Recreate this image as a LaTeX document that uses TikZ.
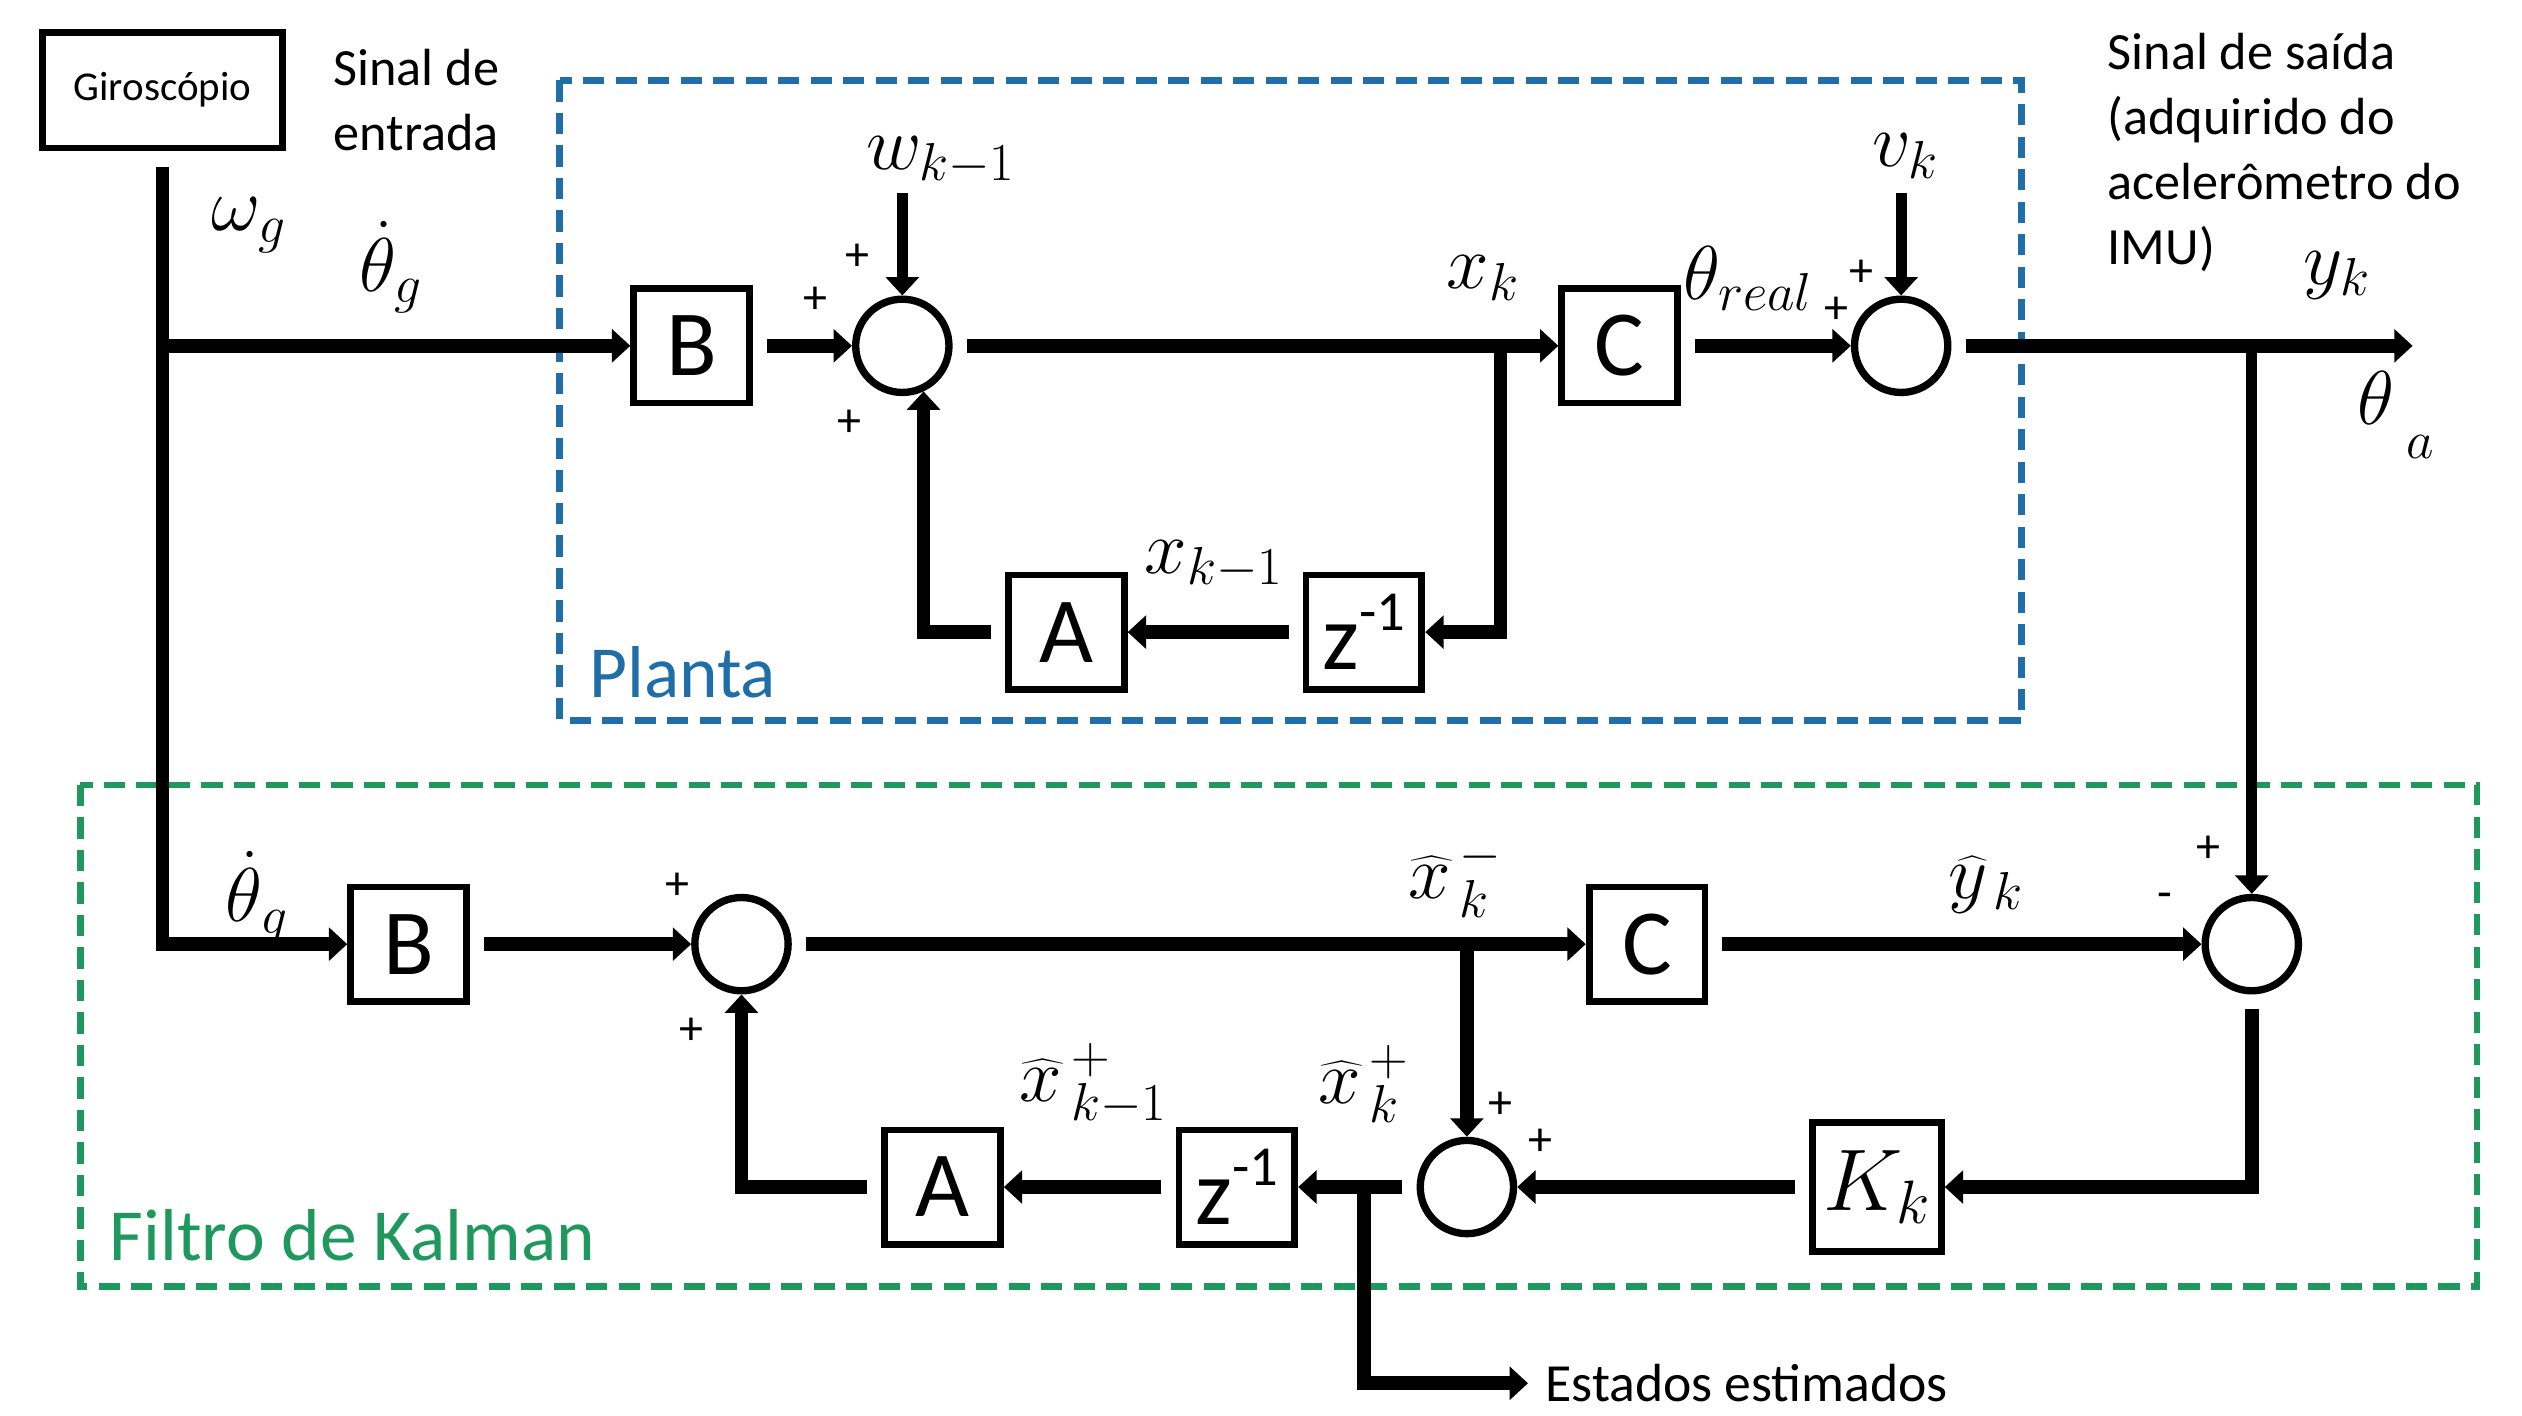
\RequirePackage{fix-cm}
\documentclass[tikz,border=0pt]{standalone}
\usepackage{fontspec}
\setmainfont{Carlito}
\usetikzlibrary{arrows.meta,calc}
\definecolor{plantblue}{RGB}{31,110,168}
\definecolor{kalgreen}{RGB}{30,152,92}
\begin{document}
\begin{tikzpicture}[x=0.02cm,y=-0.02cm,
  wire/.style={line width=4.8pt},
  thinwire/.style={line width=4pt},
  arr/.style={-{Triangle[length=6.5pt,width=11.5pt]}},
  gap/.style={shorten <=5pt},
  blk/.style={draw,line width=2.4pt,minimum width=1.44cm,minimum height=1.42cm,inner sep=0pt,font=\fontsize{33}{36}\selectfont},
  sumc/.style={draw,circle,line width=2.6pt,minimum size=1.16cm,inner sep=0pt},
  lbl/.style={font=\fontsize{27}{30}\selectfont,inner sep=0pt},
  sgn/.style={font=\fontsize{17}{20}\selectfont,inner sep=0pt},
  txt/.style={font=\fontsize{18.5}{23}\selectfont,inner sep=0pt,align=left},
  region/.style={line width=2.4pt,dash pattern=on 7.5pt off 4pt},
  title/.style={font=\fontsize{26}{30}\selectfont,inner sep=0pt,anchor=west}
]
\useasboundingbox (0,0) rectangle (1568,880);

% regions
\draw[region,plantblue] (348,50) rectangle (1257,448);
\draw[region,kalgreen] (50,488) rectangle (1540,800);
\node[title,text=plantblue] (planta) at (366,418) {Planta};
\node[title,text=kalgreen] (filtro) at (68,768) {Filtro de Kalman};

% gyro and texts
\node[draw,line width=2.4pt,minimum width=2.98cm,minimum height=1.44cm,inner sep=0pt,font=\fontsize{14.5}{16}\selectfont] (G) at (101,56) {Giroscópio};
\node[txt,anchor=north west] (sin) at (207,30) {Sinal de\\entrada};
\node[txt,anchor=north west] (sout) at (1310,20) {Sinal de saída\\(adquirido do\\acelerômetro do\\IMU)};

% upper blocks
\node[blk] (B1) at (430,215) {B};
\node[sumc] (s1) at (561,215) {};
\node[blk] (C1) at (1007,215) {C};
\node[sumc] (s2) at (1182,215) {};
\node[blk] (Z1) at (848,393) {z\raisebox{0.42em}{\fontsize{20}{20}\selectfont -1}};
\node[blk] (A1) at (663,393) {A};

% lower blocks
\node[blk] (B2) at (254,587) {B};
\node[sumc] (s3) at (461,587) {};
\node[blk] (C2) at (1024,587) {C};
\node[sumc] (s4) at (1400,587) {};
\node[blk,minimum width=1.6cm,minimum height=1.6cm,font=\fontsize{31}{36}\selectfont] (K) at (1167,738) {$K_k$};
\node[sumc] (s5) at (912,738) {};
\node[blk] (Z2) at (769,738) {z\raisebox{0.42em}{\fontsize{20}{20}\selectfont -1}};
\node[blk] (A2) at (586,738) {A};
\node[txt,anchor=west,inner xsep=6pt,font=\fontsize{19}{23}\selectfont] (est) at (950,860) {Estados estimados};

% coordinates
\coordinate (jg) at (G.south |- B1.west);
\coordinate (wt) at (561,120);
\coordinate (vt) at (1182,120);
\coordinate (bx) at (933,215);
\coordinate (out) at (1500,215);
\coordinate (by) at (1400,215);
\coordinate (bx2) at (912,587);
\coordinate (be) at (848,738);

% upper connectors
\draw[wire,arr,shorten <=0.2cm] (G.south) |- (B2.west);
\draw[wire,arr] (jg) -- (B1.west);
\draw[wire,arr,gap] (B1.east) -- (s1.west);
\draw[thinwire,arr] (wt) -- (s1.north);
\draw[wire,arr,gap] (s1.east) -- (C1.west);
\draw[wire,arr] (bx) |- (Z1.east);
\draw[wire,arr,gap] (Z1.west) -- (A1.east);
\draw[wire,arr,gap] (A1.west) -| (s1.-65);
\draw[wire,arr,gap] (C1.east) -- (s2.west);
\draw[thinwire,arr] (vt) -- (s2.north);
\draw[wire,arr,gap] (s2.east) -- (out);
\draw[thinwire,arr] (by) -- (s4.north);

% lower connectors
\draw[wire,arr,gap] (B2.east) -- (s3.west);
\draw[wire,arr,gap] (s3.east) -- (C2.west);
\draw[wire,arr] (bx2) -- (s5.north);
\draw[wire,arr,gap] (C2.east) -- (s4.west);
\draw[wire,arr,gap] (s4.south) |- (K.east);
\draw[wire,arr,gap] (K.west) -- (s5.east);
\draw[wire,arr,gap] (s5.west) -- (Z2.east);
\draw[wire,arr] (be) |- (est.west);
\draw[wire,arr,gap] (Z2.west) -- (A2.east);
\draw[wire,arr,gap] (A2.west) -| (s3.south);

% math labels
\node[lbl] (lw) at (155,140) {$\omega_g$};
\node[lbl] (lt1) at (243,166) {$\dot{\theta}_g$};
\node[lbl] (lt2) at (160,558) {$\dot{\theta}_g$};
\node[lbl] (lwk) at (585,100) {$w_{k-1}$};
\node[lbl] (lxk) at (922,173) {$x_k$};
\node[lbl] (lth) at (1087,173) {$\theta_{real}$};
\node[lbl] (lvk) at (1185,97) {$v_k$};
\node[lbl] (lyk) at (1453,171) {$y_k$};
\node[lbl] (lta) at (1490,258) {$\theta_{\;\lower8pt\hbox{$\scriptstyle a$}}$};
\node[lbl] (lxk1) at (755,351) {$x_{k-1}$};
\node[lbl] (lxm) at (905,546) {$\widehat{x}^{\,-}_{\,k}$};
\node[lbl] (lyh) at (1235,550) {$\widehat{y}_{\,k}$};
\node[lbl] (lxp) at (848,674) {$\widehat{x}^{\,+}_{\,k}$};
\node[lbl] (lxp1) at (680,674) {$\widehat{x}^{\,+}_{\,k-1}$};

% signs
\node[sgn] (p1) at (533,160) {+};
\node[sgn] (p2) at (507,187) {+};
\node[sgn] (p3) at (528,263) {+};
\node[sgn] (p4) at (1157,170) {+};
\node[sgn] (p5) at (1142,193) {+};
\node[sgn] (p6) at (421,551) {+};
\node[sgn] (p7) at (430,641) {+};
\node[sgn] (p8) at (1373,528) {+};
\node[sgn] (m1) at (1346,560) {-};
\node[sgn] (p9) at (933,687) {+};
\node[sgn] (p10) at (958,710) {+};
\end{tikzpicture}
\end{document}
